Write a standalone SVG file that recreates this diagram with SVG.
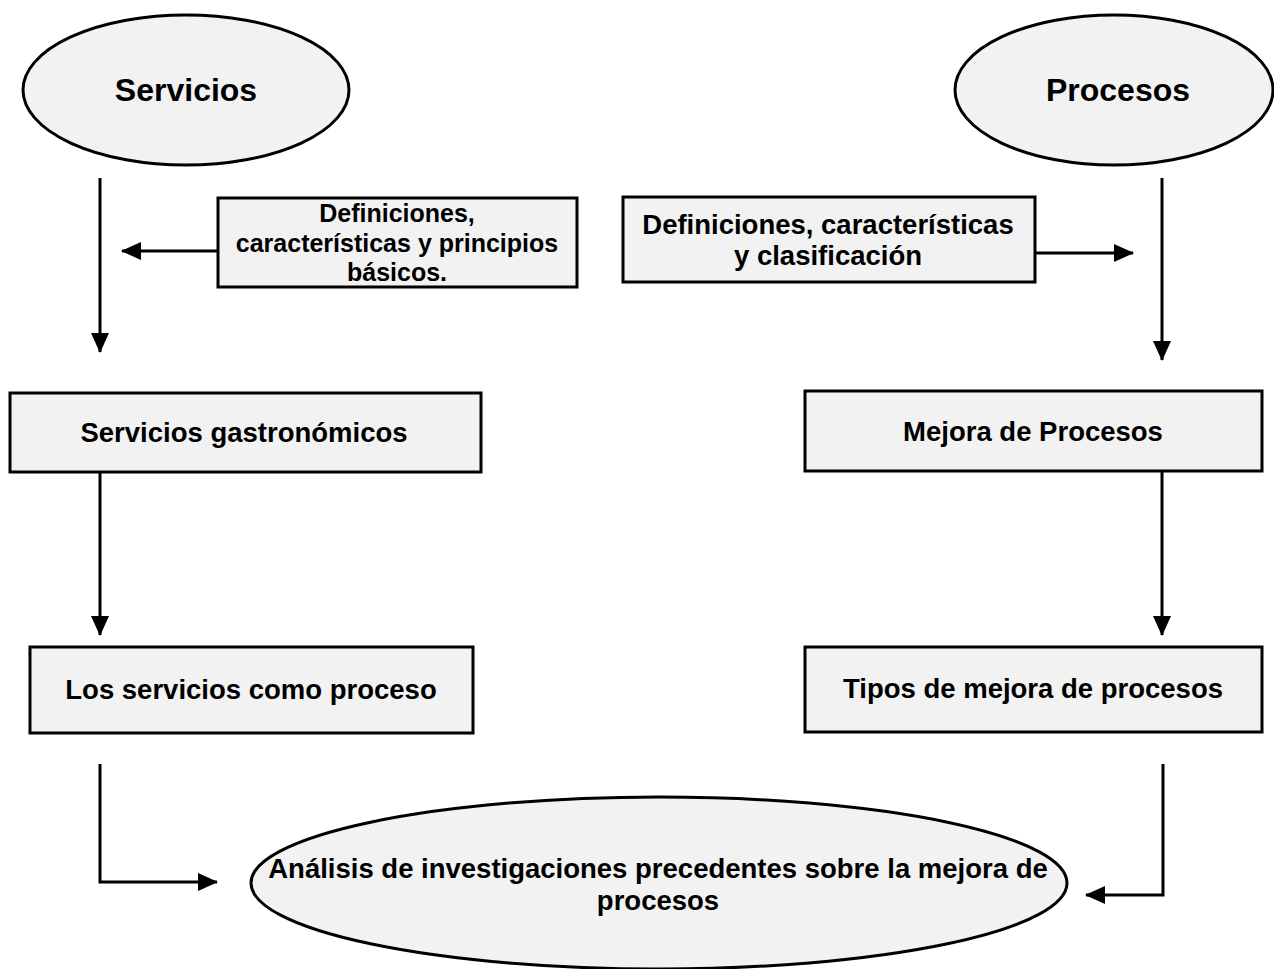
<svg xmlns="http://www.w3.org/2000/svg" width="1274" height="969" viewBox="0 0 1274 969">
  <style>
    .shape { fill: #f2f2f2; stroke: #000; stroke-width: 3; }
    .lbl { font-family: "Liberation Sans", Arial, sans-serif; font-weight: bold; fill: #000; text-anchor: middle; }
    .t32 { font-size: 32px; }
    .t27 { font-size: 27.5px; }
    .t25 { font-size: 25px; }
    .wire { fill: none; stroke: #000; stroke-width: 3; }
  </style>
  <defs>
    <marker id="arrow" viewBox="0 0 20 18" refX="19" refY="9" markerWidth="20" markerHeight="18" markerUnits="userSpaceOnUse" orient="auto" overflow="visible">
      <path d="M0,0 L20,9 L0,18 Z" fill="#000" stroke="none"/>
    </marker>
  </defs>
  <rect width="1274" height="969" fill="#fff"/>

  <g id="node-servicios">
    <ellipse class="shape" cx="186" cy="90" rx="163" ry="75"/>
    <text class="lbl t32" x="186" y="101">Servicios</text>
  </g>

  <g id="node-procesos">
    <ellipse class="shape" cx="1114" cy="90" rx="159" ry="75"/>
    <text class="lbl t32" x="1118" y="101">Procesos</text>
  </g>

  <g id="node-def-servicios">
    <rect class="shape" x="218" y="198" width="359" height="89"/>
    <text class="lbl t25" x="397" y="222">Definiciones,</text>
    <text class="lbl t25" x="397" y="252">características y principios</text>
    <text class="lbl t25" x="397" y="281">básicos.</text>
  </g>

  <g id="node-def-procesos">
    <rect class="shape" x="623" y="197" width="412" height="85"/>
    <text class="lbl t27" x="828" y="234">Definiciones, características</text>
    <text class="lbl t27" x="828" y="265">y clasificación</text>
  </g>

  <g id="node-gastronomicos">
    <rect class="shape" x="10" y="393" width="471" height="79"/>
    <text class="lbl t27" x="244" y="442">Servicios gastronómicos</text>
  </g>

  <g id="node-mejora">
    <rect class="shape" x="805" y="391" width="457" height="80"/>
    <text class="lbl t27" x="1033" y="441">Mejora de Procesos</text>
  </g>

  <g id="node-servicios-proceso">
    <rect class="shape" x="30" y="647" width="443" height="86"/>
    <text class="lbl t27" x="251" y="699">Los servicios como proceso</text>
  </g>

  <g id="node-tipos">
    <rect class="shape" x="805" y="647" width="457" height="85"/>
    <text class="lbl t27" x="1033" y="698">Tipos de mejora de procesos</text>
  </g>

  <g id="node-analisis">
    <ellipse class="shape" cx="659" cy="883" rx="408" ry="86"/>
    <text class="lbl t27" x="658" y="878">Análisis de investigaciones precedentes sobre la mejora de</text>
    <text class="lbl t27" x="658" y="910">procesos</text>
  </g>

  <g id="connectors">
    <path class="wire" d="M100,178 V352" marker-end="url(#arrow)"/>
    <path class="wire" d="M218,251 H122" marker-end="url(#arrow)"/>
    <path class="wire" d="M1035,253 H1133" marker-end="url(#arrow)"/>
    <path class="wire" d="M1162,178 V360" marker-end="url(#arrow)"/>
    <path class="wire" d="M100,472 V635" marker-end="url(#arrow)"/>
    <path class="wire" d="M1162,471 V635" marker-end="url(#arrow)"/>
    <path class="wire" d="M100,764 V882 H217" marker-end="url(#arrow)"/>
    <path class="wire" d="M1163,764 V895 H1086" marker-end="url(#arrow)"/>
  </g>
</svg>
